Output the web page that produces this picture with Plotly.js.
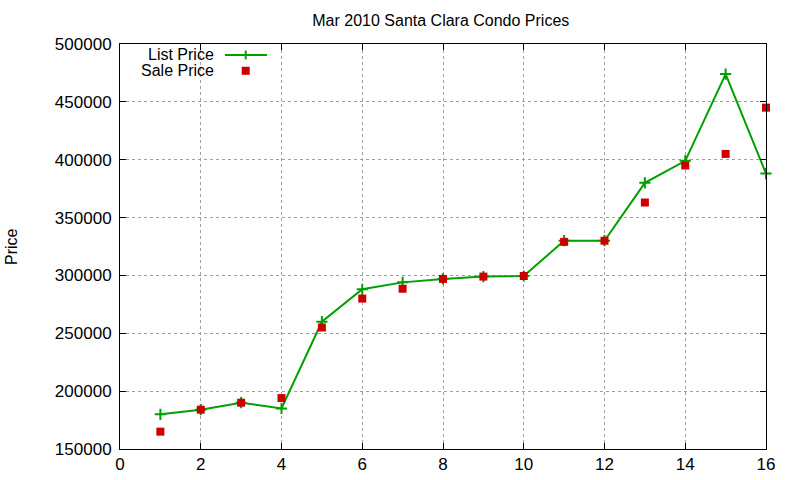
<!DOCTYPE html>
<html>
<head>
<script src="https://cdn.plot.ly/plotly-3.0.1.min.js"></script>
<style>body{margin:0;background:#fff;}</style>
</head>
<body>
<div id="chart" style="width:800px;height:480px;"></div>
<script>
var units = [1, 2, 3, 4, 5, 6, 7, 8, 9, 10, 11, 12, 13, 14, 15, 16];
var listPrice = [180000, 184000, 190000, 185000, 260000, 288000, 294000, 297000, 299000, 299500, 330000, 330000, 380000, 399000, 474000, 388000];
var salePrice = [165000, 184000, 190000, 194000, 255000, 280000, 288500, 297000, 299000, 299500, 329000, 330000, 363000, 395000, 405000, 445000];

var green = '#00a000';
var red = '#cc0000';

var traces = [
  {
    x: units, y: listPrice, type: 'scatter', mode: 'lines+markers', name: 'List Price',
    line: {color: green, width: 2},
    marker: {symbol: 'cross-thin', size: 8, line: {color: green, width: 2}},
    cliponaxis: false
  },
  {
    x: units, y: salePrice, type: 'scatter', mode: 'markers', name: 'Sale Price',
    marker: {symbol: 'square', size: 8, color: red},
    cliponaxis: false
  }
];

var axisCommon = {
  showline: true, mirror: 'ticks', linecolor: '#000', linewidth: 1,
  ticks: 'inside', ticklen: 6, tickcolor: '#000',
  showgrid: true, gridcolor: '#a0a0a0', griddash: 'dot', gridwidth: 1,
  zeroline: false,
  tickfont: {family: 'Liberation Sans, Arial, sans-serif', size: 17, color: '#000'}
};

var layout = {
  width: 800, height: 480,
  margin: {l: 120, r: 34, t: 44, b: 31},
  paper_bgcolor: '#fff', plot_bgcolor: '#fff',
  showlegend: false,
  font: {family: 'Liberation Sans, Arial, sans-serif', color: '#000'},
  title: {text: 'Mar 2010 Santa Clara Condo Prices', x: 0.551, xanchor: 'center', y: 0.958, yanchor: 'middle',
          font: {size: 16, color: '#000'}},
  xaxis: Object.assign({}, axisCommon, {range: [0, 16], dtick: 2, tick0: 0}),
  yaxis: Object.assign({}, axisCommon, {range: [150000, 500000], dtick: 50000, tick0: 150000, tickformat: 'd',
    ticklabelstandoff: 4}),
  annotations: [
    {xref: 'paper', yref: 'paper', x: 0.1486, y: 0.973, xanchor: 'right', yanchor: 'middle', showarrow: false,
     text: 'List Price', font: {size: 16, color: '#000'}},
    {xref: 'paper', yref: 'paper', x: 0.1486, y: 0.934, xanchor: 'right', yanchor: 'middle', showarrow: false,
     text: 'Sale Price', font: {size: 16, color: '#000'}},
    {xref: 'paper', yref: 'paper', x: -0.168, y: 0.5, xanchor: 'center', yanchor: 'middle', showarrow: false,
     textangle: -90, text: 'Price', font: {size: 16, color: '#000'}}
  ],
  shapes: [
    {type: 'line', xref: 'paper', yref: 'paper', x0: 0.1625, x1: 0.2276, y0: 0.973, y1: 0.973, line: {color: green, width: 2}},
    {type: 'line', xref: 'paper', yref: 'paper', x0: 0.1946, x1: 0.1946, y0: 0.962, y1: 0.984, line: {color: green, width: 2}},
    {type: 'rect', xref: 'paper', yref: 'paper', x0: 0.1884, x1: 0.2008, y0: 0.9240, y1: 0.9438, fillcolor: red, line: {width: 0}}
  ]
};

Plotly.newPlot('chart', traces, layout, {displayModeBar: false, staticPlot: true});
</script>
</body>
</html>
